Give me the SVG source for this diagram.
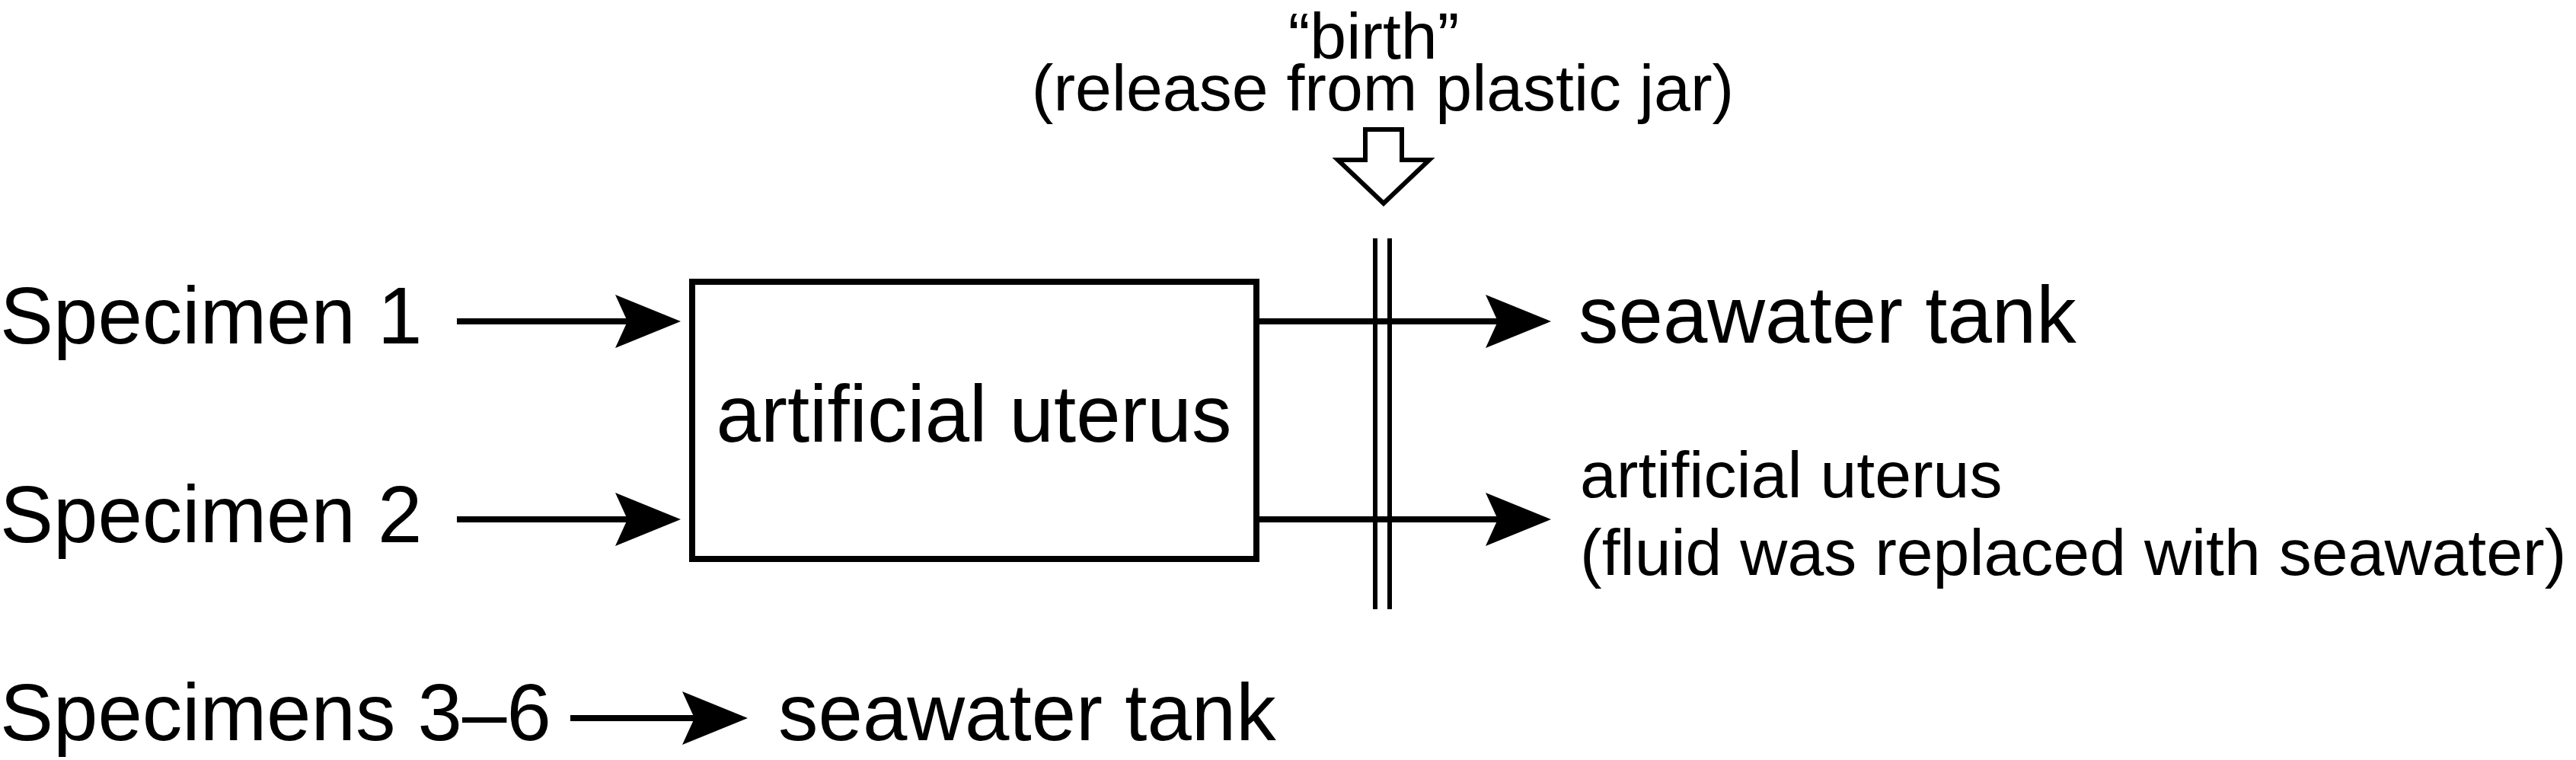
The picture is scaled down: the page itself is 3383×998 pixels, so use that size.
<svg xmlns="http://www.w3.org/2000/svg" width="3383" height="998" viewBox="0 0 3383 998">
  <style>
    text { font-family: "Liberation Sans", Arial, sans-serif; fill: #000; }
    .big { font-size: 105px; }
    .small { font-size: 86px; }
    .conn { stroke: #000; stroke-width: 8; fill: none; }
    .sep { stroke: #000; stroke-width: 6; fill: none; }
  </style>
  <defs>
    <marker id="head" markerUnits="userSpaceOnUse" markerWidth="86" markerHeight="70" refX="16" refY="35" orient="auto" overflow="visible">
      <path d="M0,0 L86,35 L0,70 L16,35 Z" fill="#000"/>
    </marker>
  </defs>
  <rect width="3383" height="998" fill="#fff"/>

  <g id="specimen1"><text class="big" x="0" y="451">Specimen 1</text></g>
  <g id="specimen2"><text class="big" x="0" y="712">Specimen 2</text></g>
  <g id="specimens3-6"><text class="big" x="0" y="972">Specimens 3–6</text></g>

  <g id="artificial-uterus-box">
    <rect x="909" y="370" width="741" height="364" fill="#fff" stroke="#000" stroke-width="8"/>
    <text class="big" x="1279" y="580" text-anchor="middle">artificial uterus</text>
  </g>

  <g id="birth-label">
    <text class="small" text-anchor="middle"><tspan x="1804" y="77">“birth”</tspan><tspan x="1816" y="145">(release from plastic jar)</tspan></text>
    <polygon points="1793,170 1841,170 1841,210 1877,210 1817,267 1757,210 1793,210" fill="#fff" stroke="#000" stroke-width="6" stroke-linejoin="miter"/>
  </g>

  <g id="seawater-tank-1"><text class="big" x="2073" y="450">seawater tank</text></g>
  <g id="artificial-uterus-out">
    <text class="small"><tspan x="2075" y="653">artificial uterus</tspan><tspan x="2075" y="755">(fluid was replaced with seawater)</tspan></text>
  </g>
  <g id="seawater-tank-2"><text class="big" x="1022" y="972">seawater tank</text></g>

  <g id="connectors">
    <line class="conn" x1="600" y1="422" x2="824" y2="422" marker-end="url(#head)"/>
    <line class="conn" x1="600" y1="682" x2="824" y2="682" marker-end="url(#head)"/>
    <line class="conn" x1="1650" y1="422" x2="1967" y2="422" marker-end="url(#head)"/>
    <line class="conn" x1="1650" y1="682" x2="1967" y2="682" marker-end="url(#head)"/>
    <line class="conn" x1="749" y1="943" x2="912" y2="943" marker-end="url(#head)"/>
    <line class="sep" x1="1806" y1="313" x2="1806" y2="800"/>
    <line class="sep" x1="1825" y1="313" x2="1825" y2="800"/>
  </g>
</svg>
